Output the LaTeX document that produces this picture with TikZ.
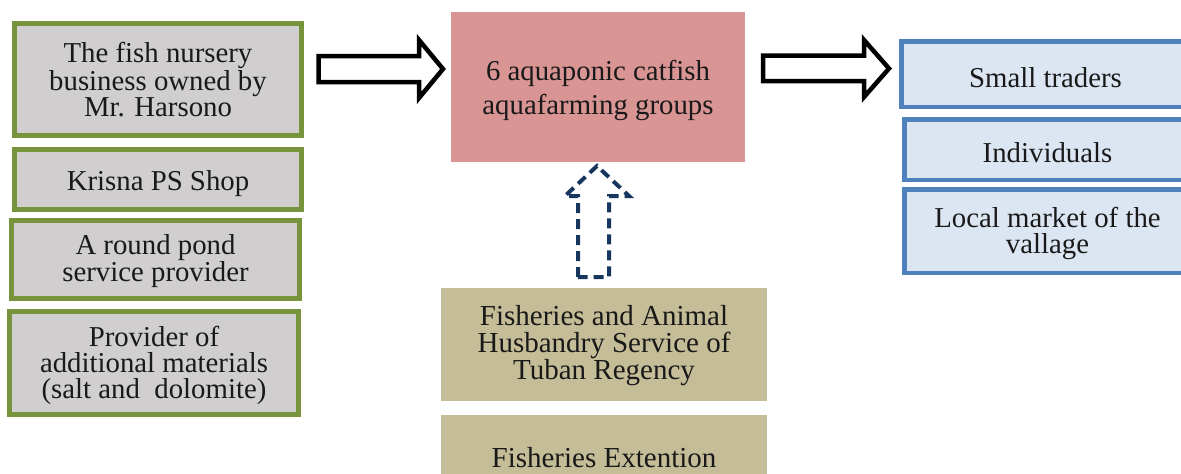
\documentclass[tikz,border=0pt]{standalone}
\usepackage{fontspec}
\setmainfont{Liberation Serif}
\definecolor{grnB}{RGB}{119,147,60}
\definecolor{grayF}{RGB}{208,206,206}
\definecolor{pinkF}{RGB}{217,149,148}
\definecolor{bluB}{RGB}{79,129,189}
\definecolor{bluF}{RGB}{220,230,242}
\definecolor{tanF}{RGB}{196,189,151}
\definecolor{navy}{RGB}{23,54,93}
\definecolor{txt}{RGB}{25,25,25}
\begin{document}
\begin{tikzpicture}[x=1pt,y=-1pt,
  base/.style={rectangle,inner sep=0pt},
  lbl/.style={inner sep=0pt,align=center,text=txt,font=\fontsize{28.8}{26}\selectfont},
  clbl/.style={lbl,font=\fontsize{28.8}{34}\selectfont},
  tlbl/.style={lbl,font=\fontsize{29}{27}\selectfont},
  leftbox/.style={base,draw=grnB,fill=grayF,line width=5pt},
  rightbox/.style={base,draw=bluB,fill=bluF,line width=4.5pt},
  centerbox/.style={base,fill=pinkF},
  tanbox/.style={base,fill=tanF},
  blockarrow/.style={draw=black,fill=white,line width=4.5pt,line join=miter},
  dasharrow/.style={draw=navy,line width=4pt,dash pattern=on 10pt off 6pt,line join=miter}]
\useasboundingbox (0,0) rectangle (1181,474);
\clip (0,0) rectangle (1181,474);
% left column
\node[leftbox,minimum width=287pt,minimum height=112pt] (l1) at (158,79.5) {};
\node[lbl] (l1t) at (l1.center) {The fish nursery\\business owned by\\Mr. Harsono};
\node[leftbox,minimum width=287pt,minimum height=60pt] (l2) at (158,179.5) {};
\node[lbl] (l2t) at ([yshift=-4pt]l2.center) {Krisna PS Shop};
\node[leftbox,minimum width=288pt,minimum height=78pt] (l3) at (155.5,259.5) {};
\node[lbl] (l3t) at ([yshift=-2pt]l3.center) {A round pond\\service provider};
\node[leftbox,minimum width=289pt,minimum height=103pt] (l4) at (154,363) {};
\node[lbl] (l4t) at ([yshift=-2pt]l4.center) {Provider of\\additional materials\\(salt and\ \ dolomite)};
% center
\node[centerbox,minimum width=294pt,minimum height=150pt] (c) at (598,87) {};
\node[clbl] (ct) at ([yshift=-3pt]c.center) {6 aquaponic catfish\\aquafarming groups};
% right column
\node[rightbox,minimum width=288.5pt,minimum height=65.5pt] (r1) at (1045.5,74) {};
\node[lbl] (r1t) at ([yshift=-4pt]r1.center) {Small traders};
\node[rightbox,minimum width=286.5pt,minimum height=60.5pt] (r2) at (1047.5,149.5) {};
\node[lbl] (r2t) at ([yshift=-3pt]r2.center) {Individuals};
\node[rightbox,minimum width=286.5pt,minimum height=83.5pt] (r3) at (1047.5,231) {};
\node[lbl] (r3t) at ([yshift=-2pt]r3.center) {Local market of the\\vallage};
% bottom
\node[tanbox,minimum width=326pt,minimum height=113pt] (b1) at (604,344.5) {};
\node[tlbl] (b1t) at ([yshift=-1pt]b1.center) {Fisheries and Animal\\Husbandry Service of\\Tuban Regency};
\node[tanbox,minimum width=326pt,minimum height=80pt] (b2) at (604,455) {};
\node[tlbl] (b2t) at ([yshift=-3pt]b2.center) {Fisheries Extention};
% arrows
\draw[blockarrow] (318.5,56) -- (419,56) -- (419,40) -- (443,69) -- (419,98) -- (419,82) -- (318.5,82) -- cycle;
\draw[blockarrow] (763,55.5) -- (864,55.5) -- (864,40) -- (889,68.5) -- (864,97) -- (864,81) -- (763,81) -- cycle;
\draw[dasharrow] (578,277) -- (578,196) -- (565,196) -- (597,166) -- (629,196) -- (609,196) -- (609,277) -- cycle;
\end{tikzpicture}
\end{document}
